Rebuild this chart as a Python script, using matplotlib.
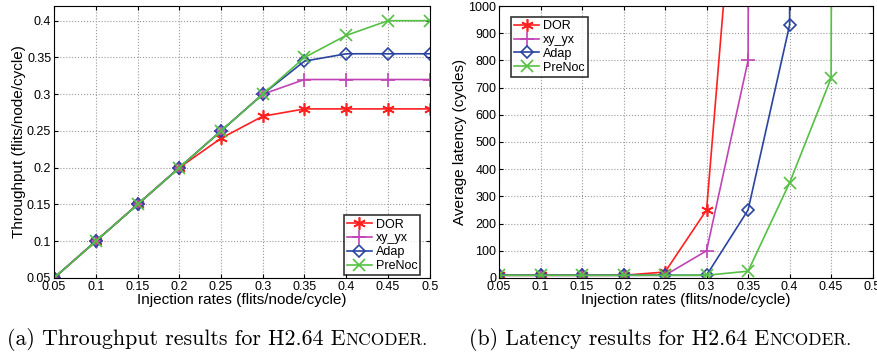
import numpy as np
import matplotlib.pyplot as plt

rates = [0.05, 0.1, 0.15, 0.2, 0.25, 0.3, 0.35, 0.4, 0.45, 0.5]

# throughput (flits/node/cycle)
thr_dor = [0.05, 0.1, 0.15, 0.2, 0.24, 0.27, 0.28, 0.28, 0.28, 0.28]
thr_xy = [0.05, 0.1, 0.15, 0.2, 0.25, 0.30, 0.32, 0.32, 0.32, 0.32]
thr_adap = [0.05, 0.1, 0.15, 0.2, 0.25, 0.30, 0.345, 0.355, 0.355, 0.355]
thr_pre = [0.05, 0.1, 0.15, 0.2, 0.25, 0.30, 0.35, 0.38, 0.40, 0.40]

# latency (cycles), saturated points lie far above the plot
lat_dor = [10, 10, 10, 10, 22, 250, 2100, 50000, 60000, 70000]
lat_xy = [10, 10, 10, 10, 10, 100, 800, 60000, 70000, 80000]
lat_adap = [10, 10, 10, 10, 10, 10, 250, 930, 60000, 70000]
lat_pre = [10, 10, 10, 10, 10, 10, 25, 350, 735, 60000]

names = ["DOR", "xy_yx", "Adap", "PreNoc"]
colors = ["#ff2020", "#c044b4", "#2a44a0", "#55c043"]
markers = [(6, 2, 0), "+", "D", "x"]
msizes = [9, 10, 6.6, 8]

plt.rcParams['font.family'] = ['Liberation Sans', 'DejaVu Sans']
plt.rcParams['font.size'] = 9

fig = plt.figure(figsize=(8.77, 3.53), dpi=100)
ax1 = fig.add_axes([0.0616, 0.2125, 0.4284, 0.7705])
ax2 = fig.add_axes([0.569, 0.2125, 0.426, 0.7705])

def style(ax):
    ax.grid(True, linestyle=':', color='#999999', linewidth=0.8)
    ax.tick_params(direction='in', length=3, top=True, right=True, labelsize=9, pad=2)
    for s in ax.spines.values():
        s.set_linewidth(0.8)
    ax.set_xticks(rates)
    ax.set_xticklabels([f"{r:g}" for r in rates])
    ax.set_xlabel("Injection rates (flits/node/cycle)", fontsize=11, labelpad=0)

def legend(ax, loc, anchor):
    leg = ax.legend(loc=loc, bbox_to_anchor=anchor, fancybox=False, edgecolor='black',
                    borderpad=0.25, handlelength=2.0, handletextpad=0.3, labelspacing=0.15,
                    borderaxespad=0, fontsize=9)
    leg.get_frame().set_linewidth(1.2)

for ys, n, c, m, ms in zip([thr_dor, thr_xy, thr_adap, thr_pre], names, colors, markers, msizes):
    ax1.plot(rates, ys, color=c, marker=m, markersize=ms, markerfacecolor='none',
             markeredgewidth=1.2, linewidth=1.2, label=n)
ax1.set_xlim(0.05, 0.5)
ax1.set_ylim(0.05, 0.42)
ax1.set_yticks([0.05, 0.1, 0.15, 0.2, 0.25, 0.3, 0.35, 0.4])
ax1.set_yticklabels(["0.05", "0.1", "0.15", "0.2", "0.25", "0.3", "0.35", "0.4"])
ax1.set_ylabel("Throughput (flits/node/cycle)", fontsize=11, labelpad=1)
style(ax1)
legend(ax1, 'lower right', (0.975, 0.01))

for ys, n, c, m, ms in zip([lat_dor, lat_xy, lat_adap, lat_pre], names, colors, markers, msizes):
    ax2.plot(rates, ys, color=c, marker=m, markersize=ms, markerfacecolor='none',
             markeredgewidth=1.2, linewidth=1.2, label=n)
ax2.set_xlim(0.05, 0.5)
ax2.set_ylim(0, 1000)
ax2.set_yticks(np.arange(0, 1001, 100))
ax2.set_ylabel("Average latency (cycles)", fontsize=11, labelpad=1)
style(ax2)
legend(ax2, 'upper left', (0.032, 0.96))

# captions with small caps "Encoder"
fig.canvas.draw()
r = fig.canvas.get_renderer()
def caption(x, y, lead):
    t1 = fig.text(x, y, lead + "E", family='cmr10', fontsize=15.8, va='baseline')
    bb = t1.get_window_extent(r)
    fig.text(bb.x1 / fig.bbox.width, y, "NCODER.", family='cmr10', fontsize=12.5, va='baseline')
caption(0.008, 0.023, "(a) Throughput results for H2.64 ")
caption(0.535, 0.023, "(b) Latency results for H2.64 ")

fig.savefig("out.png", dpi=100)
